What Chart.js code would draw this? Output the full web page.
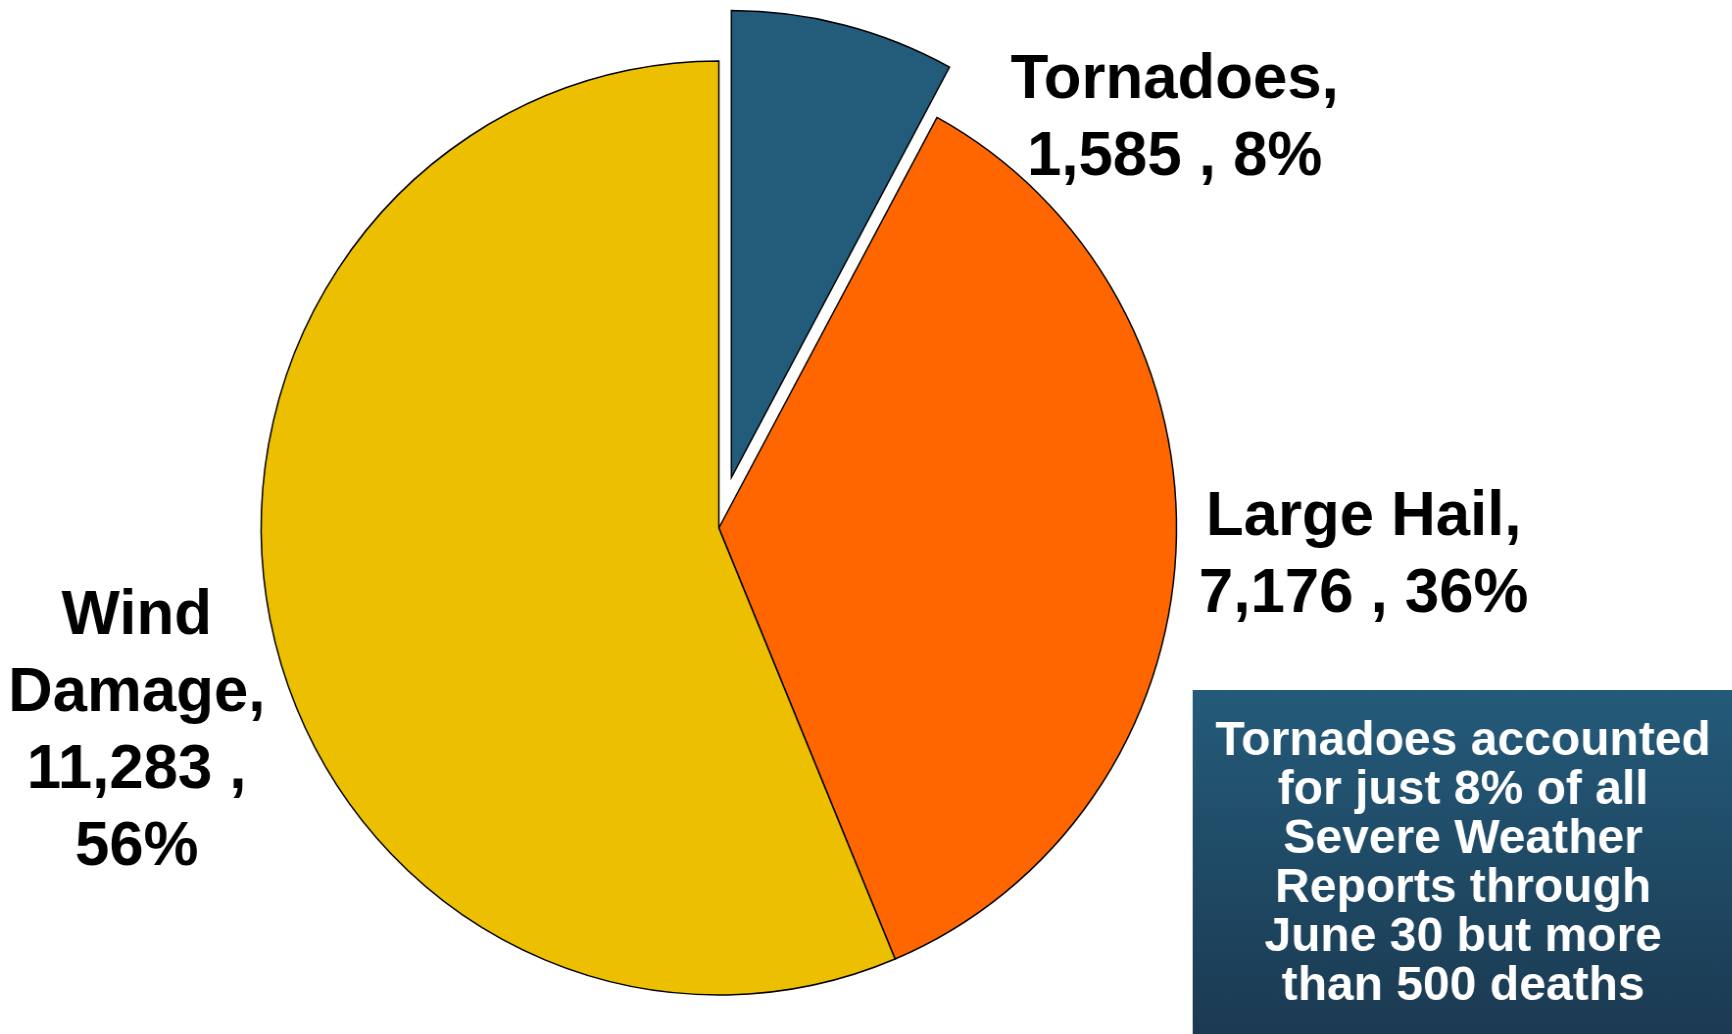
<!DOCTYPE html>
<html>
<head>
<meta charset="utf-8">
<script src="https://cdn.jsdelivr.net/npm/chart.js@4.4.1/dist/chart.umd.min.js"></script>
<style>
  html, body { margin: 0; padding: 0; background: #ffffff; overflow: hidden; }
  #wrap { position: absolute; left: 0; top: 0; width: 1767px; height: 1034px; transform: scaleX(0.98); transform-origin: 0 0; }
</style>
</head>
<body>
<div id="wrap"><canvas id="c"></canvas></div>
<script>
// ---- data ----
const categories = ['Tornadoes', 'Large Hail', 'Wind Damage'];
const reports = [1585, 7176, 11283];
const sliceColors = ['#235B7A', '#FF6600', '#ECC000'];
const noteLines = [
  'Tornadoes accounted',
  'for just 8% of all',
  'Severe Weather',
  'Reports through',
  'June 30 but more',
  'than 500 deaths'
];

const FONT = '"Liberation Sans", Arial, Helvetica, sans-serif';

function fmt(n) { return n.toLocaleString('en-US'); }

// label text built from the data
function labelLines(i, total) {
  const pct = Math.round(reports[i] / total * 100) + '%';
  const name = categories[i];
  if (i === 2) {
    const w = name.split(' ');
    return [w[0], w[1] + ',', fmt(reports[i]) + ' ,', pct];
  }
  return [name + ',', fmt(reports[i]) + ' , ' + pct];
}

// label anchors relative to the pie centre, in units of the radius
const labelAnchors = [
  { dx: 0.996, dy: -0.921 },
  { dx: 1.409, dy: 0.015 },
  { dx: -1.272, dy: 0.227 }
];

const explodePlugin = {
  id: 'explode',
  afterDatasetUpdate(chart, args) {
    const meta = chart.getDatasetMeta(args.index);
    const arc = meta.data[0];
    if (!arc) return;
    const mid = (arc.startAngle + arc.endAngle) / 2;
    const d = 52;
    arc.x += Math.cos(mid) * d;
    arc.y += Math.sin(mid) * d;
  }
};

const labelPlugin = {
  id: 'sliceLabels',
  afterDatasetsDraw(chart) {
    const meta = chart.getDatasetMeta(0);
    const ref = meta.data[1];
    const cx = ref.x, cy = ref.y, r = ref.outerRadius;
    const total = reports.reduce((a, b) => a + b, 0);
    const ctx = chart.ctx;
    ctx.save();
    ctx.fillStyle = '#000000';
    ctx.font = 'bold 63px ' + FONT;
    ctx.textAlign = 'center';
    ctx.textBaseline = 'alphabetic';
    const lh = 77;
    reports.forEach((v, i) => {
      const a = labelAnchors[i];
      const x = cx + a.dx * r;
      const y0 = cy + a.dy * r;
      labelLines(i, total).forEach((t, k) => ctx.fillText(t, x, y0 + k * lh));
    });
    ctx.restore();
  }
};

const notePlugin = {
  id: 'noteBox',
  afterDraw(chart) {
    const ctx = chart.ctx;
    const W = chart.width, H = chart.height;
    const left = 1217, top = 690;
    ctx.save();
    const g = ctx.createLinearGradient(0, top, 0, H);
    g.addColorStop(0, '#245B7A');
    g.addColorStop(1, '#1B3A51');
    ctx.fillStyle = g;
    ctx.fillRect(left, top, W - left, H - top);
    ctx.fillStyle = '#ffffff';
    ctx.font = 'bold 49px ' + FONT;
    ctx.textAlign = 'center';
    ctx.textBaseline = 'alphabetic';
    const xc = 1493;
    noteLines.forEach((t, k) => ctx.fillText(t, xc, 755 + k * 49));
    ctx.restore();
  }
};

new Chart(document.getElementById('c'), {
  type: 'pie',
  data: {
    labels: categories,
    datasets: [{
      data: reports,
      backgroundColor: sliceColors,
      borderColor: '#000000',
      borderWidth: 1.5,
      borderJoinStyle: 'miter'
    }]
  },
  options: {
    responsive: true,
    maintainAspectRatio: false,
    animation: false,
    events: [],
    radius: 467,
    layout: { padding: { left: 0, right: 300, top: 22, bottom: 0 } },
    plugins: { legend: { display: false }, tooltip: { enabled: false } }
  },
  plugins: [explodePlugin, labelPlugin, notePlugin]
});
</script>
</body>
</html>
